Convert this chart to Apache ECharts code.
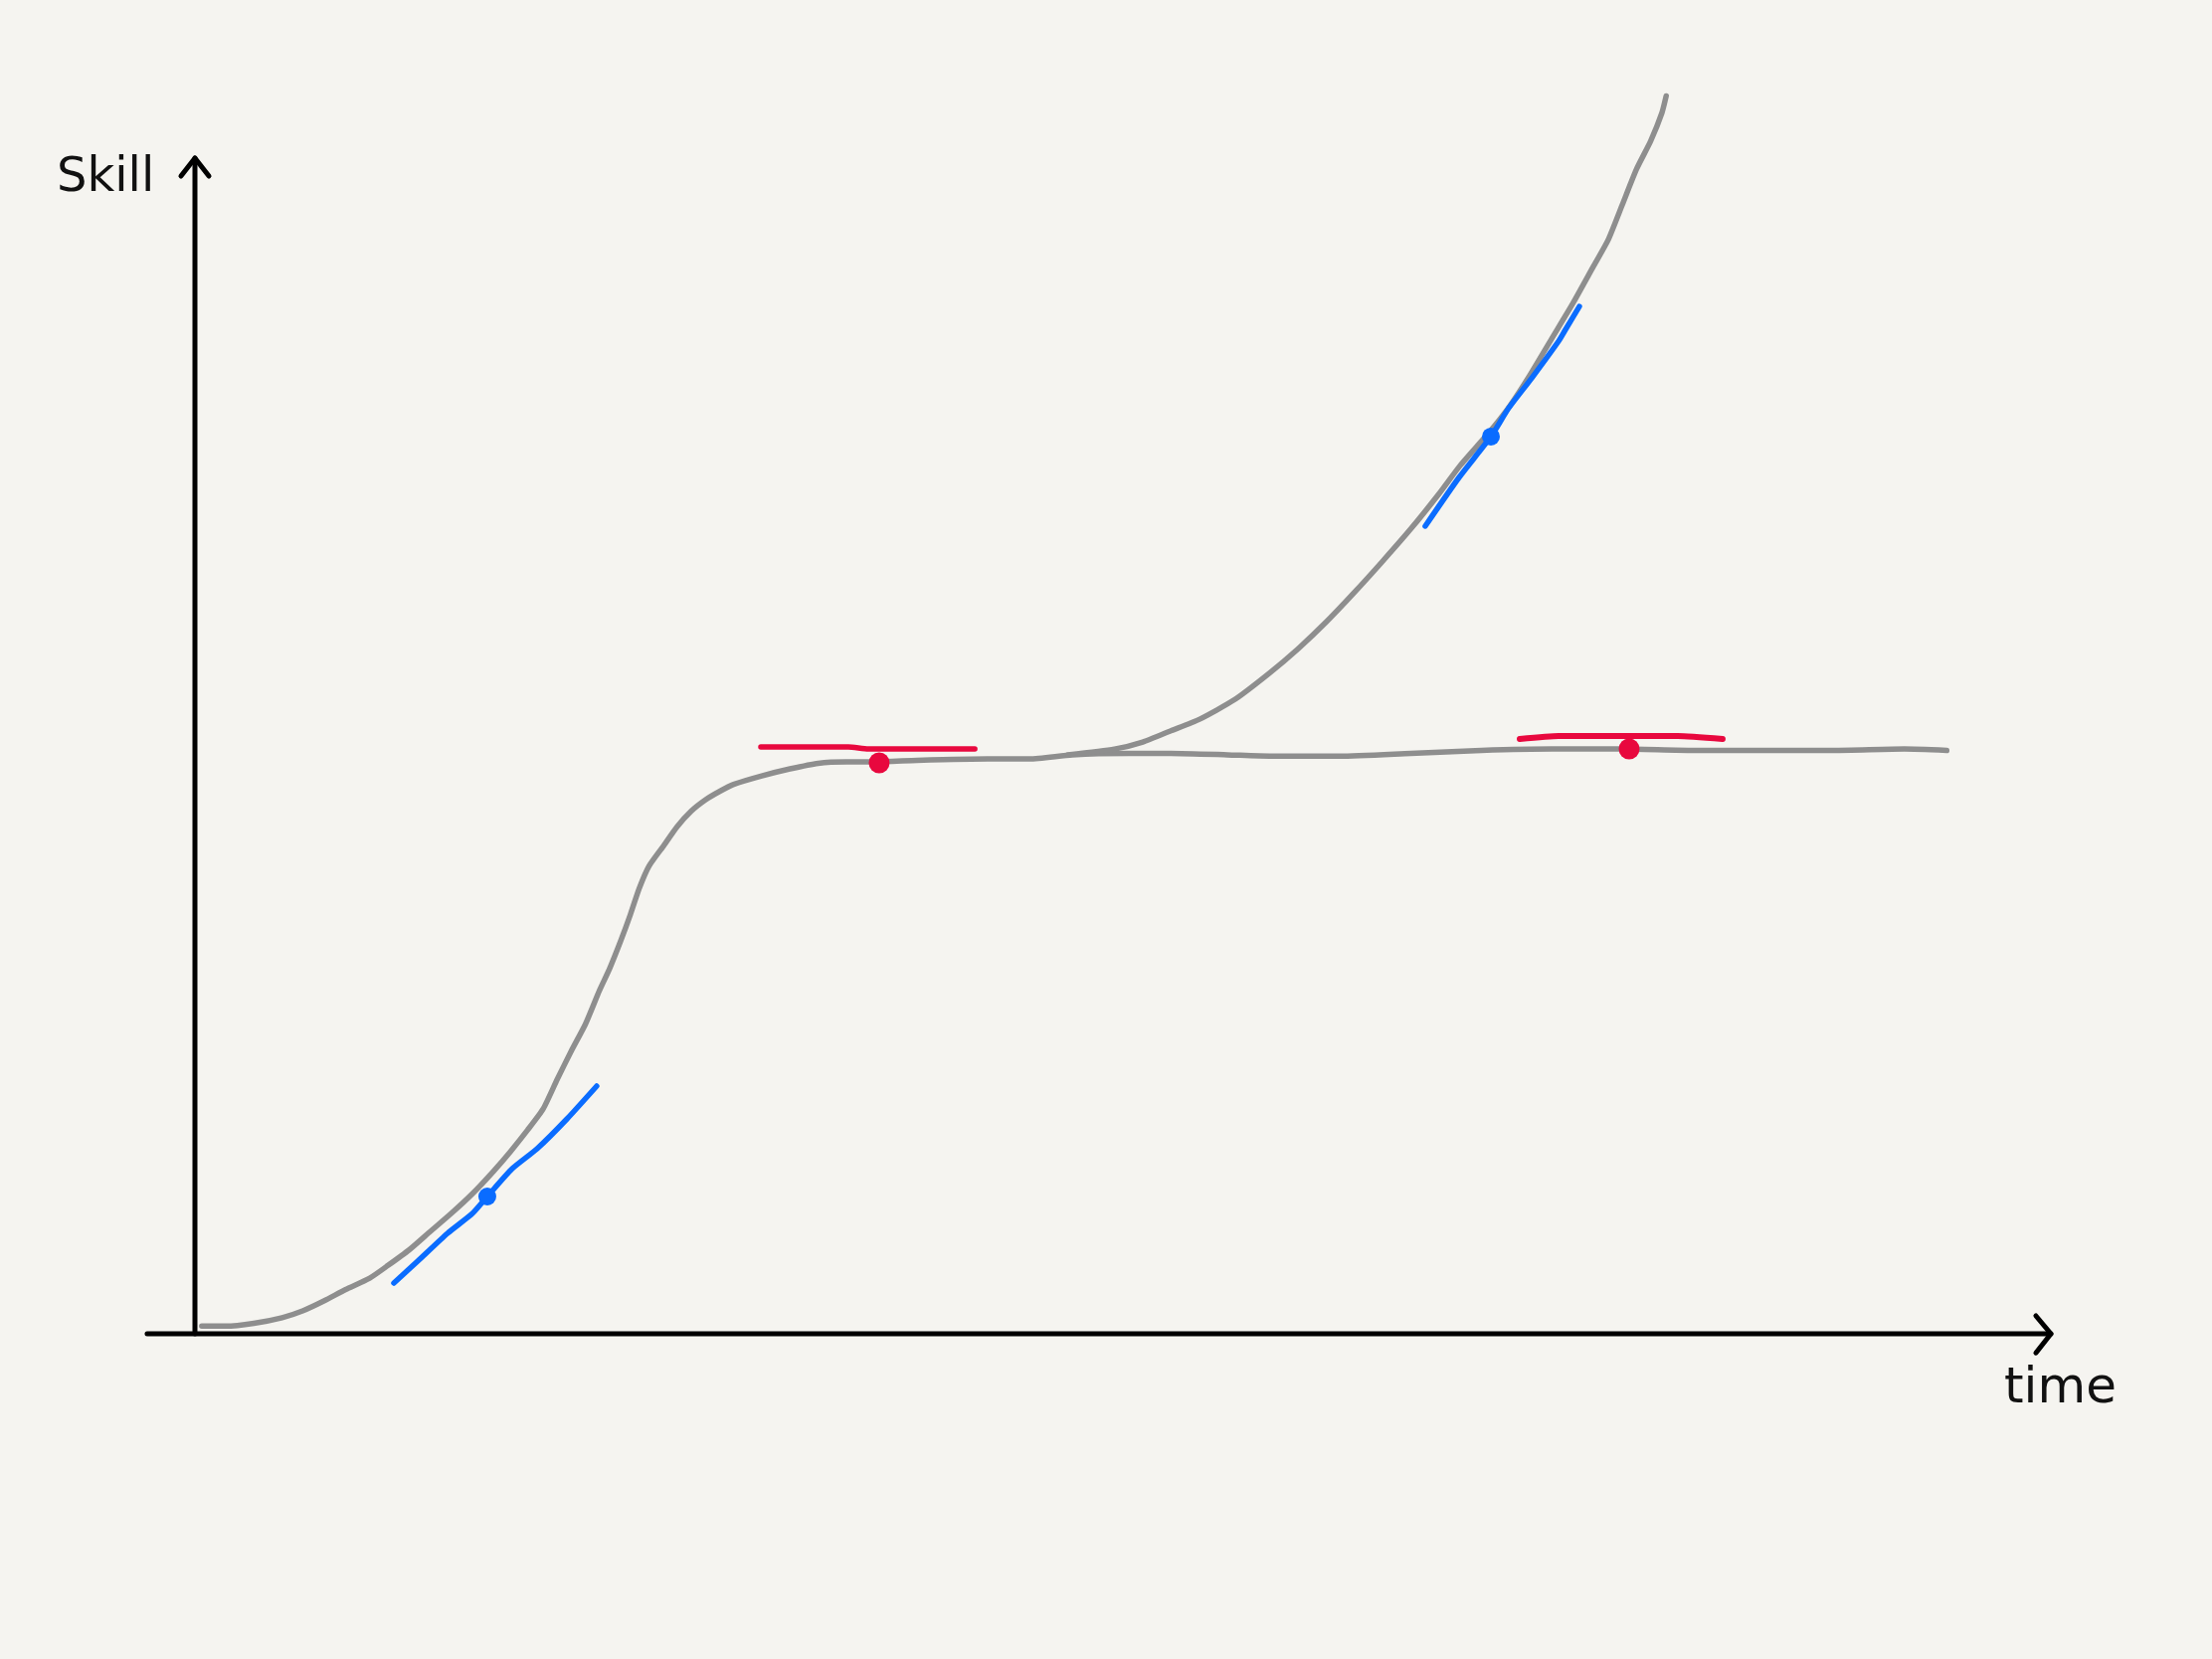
<!DOCTYPE html>
<html>
<head>
<meta charset="utf-8">
<script src="https://cdn.jsdelivr.net/npm/echarts@6/dist/echarts.min.js"></script>
<style>
html,body{margin:0;padding:0;background:#f5f4f0;}
#chart{width:2224px;height:1668px;}
</style>
</head>
<body>
<div id="chart"></div>
<script>
// ---- data (time, skill) ----
const mainCurve = [
  [0.38,0.64],[1.72,0.64],[3.29,0.88],[4.87,1.35],[6.05,1.94],[7.23,2.77],[8.42,3.71],
  [9.76,4.66],[10.78,5.72],[11.96,7.02],[13.14,8.56],[14.33,10.10],[15.51,11.75],
  [16.69,13.64],[17.64,15.30],[18.58,17.07],[19.45,18.84],[20.24,21.33],[21.02,23.69],
  [21.81,25.94],[22.60,28.78],[23.15,30.55],[23.78,32.91],[24.33,35.16],[24.81,37.29],
  [25.36,39.18],[26.15,40.83],[26.93,42.48],[27.72,43.79],[28.51,44.73],[29.30,45.44],
  [30.09,46.03],[31.66,46.74],[33.24,47.33],[34.81,47.80],[36.39,47.92],[37.97,47.92],
  [40.33,48.04],[44.27,48.16],[46.63,48.16],[49.00,48.51],[52.15,48.63],[54.51,48.63],
  [57.67,48.51],[60.03,48.40],[63.97,48.40],[67.91,48.63],[71.85,48.87],[75.79,48.99],
  [79.73,48.99],[83.67,48.87],[87.61,48.87],[91.55,48.87],[95.49,48.99],[97.85,48.87]
];
const branchCurve = [
  [48.76,48.51],[51.36,48.99],[52.94,49.58],[54.51,50.52],[56.09,51.47],[58.06,53.12],
  [60.03,55.37],[61.61,57.38],[63.18,59.62],[64.76,62.11],[66.33,64.71],[67.91,67.43],
  [69.49,70.38],[70.67,72.74],[72.32,75.58],[73.43,77.71],[74.61,80.43],[75.79,83.39],
  [76.97,86.34],[78.15,89.53],[78.94,91.66],[79.73,94.61],[80.52,97.57],[81.31,99.93],
  [81.94,102.29],[82.18,103.71]
];
const blueTangent1 = [[11.11,4.25],[12.44,6.08],[14.11,8.42],[15.50,10.08],[16.33,11.5],
  [17.72,13.83],[19.11,15.5],[20.78,18.0],[22.44,20.75]];
const blueTangent2 = [[68.72,67.67],[70.61,71.75],[72.39,75.17],[73.39,77.58],[74.67,80.08],
  [76.17,83.17],[76.5,84.0],[77.33,86.08]];
const redTangent1 = [[31.61,49.17],[33.39,49.17],[36.5,49.17],[37.61,49.0],[43.56,49.0]];
const redTangent2 = [[74.0,49.83],[76.17,50.08],[82.83,50.08],[85.33,49.83]];
const blueDots = [[16.33,11.5],[72.39,75.17]];
const redDots = [[38.22,47.83],[80.11,49.0]];
const xAxisLine = [[-2.67,0],[103.67,0]];
const xArrow = [[102.83,1.5],[103.67,0],[102.83,-1.6]];
const yAxisLine = [[0,0],[0,98.5]];
const yArrow = [[-0.78,97.0],[0,98.5],[0.78,97.0]];
const xLabel = 'time';
const yLabel = 'Skill';

const GRAY = '#8e8e8e', BLUE = '#0a6cff', RED = '#e8083e';

function line(data, color, width, z, smooth) {
  return {type:'line', data, symbol:'none', smooth: smooth || 0, z,
    lineStyle:{color, width, cap:'round', join:'round', opacity:1}, silent:true};
}

const chart = echarts.init(document.getElementById('chart'));
chart.setOption({
  backgroundColor:'#f5f4f0',
  animation:false,
  grid:{left:106, right:138, top:21, bottom:267},
  xAxis:{type:'value', min:-5, max:105, show:false},
  yAxis:{type:'value', min:-5, max:110, show:false},
  graphic:[
    {type:'text', left:57, top:156, style:{text:yLabel, font:'48px "DejaVu Sans", sans-serif', fill:'#111'}},
    {type:'text', left:2015, top:1372, style:{text:xLabel, font:'50px "DejaVu Sans", sans-serif', fill:'#111'}}
  ],
  series:[
    line(xAxisLine,'#000',5,5),
    line(xArrow,'#000',5,5),
    line(yAxisLine,'#000',5,5),
    line(yArrow,'#000',5,5),
    line(mainCurve,GRAY,5.5,3,0.2),
    line(branchCurve,GRAY,5.5,3,0.2),
    line(blueTangent1,BLUE,5.5,6,0.2),
    line(blueTangent2,BLUE,5.5,6,0.2),
    line(redTangent1,RED,5.5,6,0.2),
    line(redTangent2,RED,6,6,0.2),
    {type:'scatter', data:blueDots, symbolSize:18, itemStyle:{color:BLUE, opacity:1}, z:8, silent:true},
    {type:'scatter', data:redDots, symbolSize:21, itemStyle:{color:RED, opacity:1}, z:8, silent:true}
  ]
});
</script>
</body>
</html>
